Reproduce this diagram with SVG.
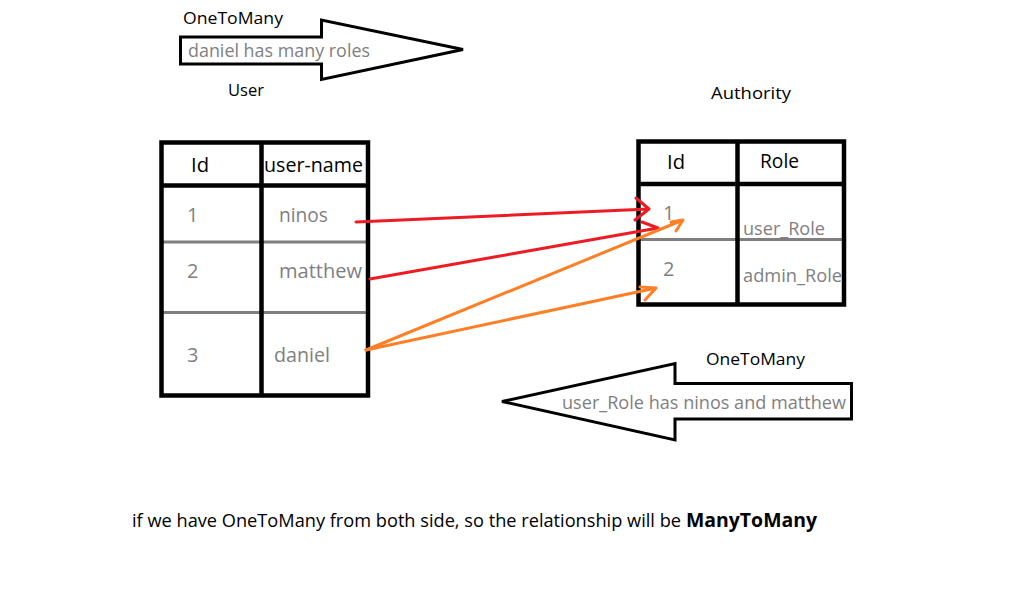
<svg xmlns="http://www.w3.org/2000/svg" width="1034" height="590" viewBox="0 0 1034 590">
<style>
.bk{fill:none;stroke:#000;stroke-width:4.5;stroke-linejoin:miter}
.gl{fill:none;stroke:#7f7f7f;stroke-width:3}
.ar{fill:#fff;stroke:#000;stroke-width:3;stroke-linejoin:miter}
.t{font-family:"Open Sans","Noto Sans","Liberation Sans",sans-serif}
.hd{font-size:20px;fill:#000}
.cl{font-size:20px;fill:#7f7f7f}
.lb{font-size:17px;fill:#000}
.gy{font-size:18px;fill:#7f7f7f}
.red{fill:none;stroke:#ed1c24;stroke-width:3;stroke-linecap:round;stroke-linejoin:round}
.org{fill:none;stroke:#ff7f27;stroke-width:3;stroke-linecap:round;stroke-linejoin:round}
</style>
<rect width="1034" height="590" fill="#fff"/>

<g id="arrow-top">
<polygon class="ar" points="180.5,37 321.5,37 321.5,20 463,49.5 321.5,79.5 321.5,64 180.5,64"/>
<text class="t lb" x="183" y="24" textLength="100" lengthAdjust="spacingAndGlyphs">OneToMany</text>
<text class="t gy" x="188" y="57" textLength="182" lengthAdjust="spacingAndGlyphs">daniel has many roles</text>
</g>

<g id="user-table">
<text class="t lb" x="228" y="96" textLength="36" lengthAdjust="spacingAndGlyphs">User</text>
<line class="gl" x1="160" y1="242" x2="369" y2="242"/>
<line class="gl" x1="160" y1="312.5" x2="369" y2="312.5"/>
<rect class="bk" x="161.5" y="142.5" width="206.5" height="253"/>
<line class="bk" x1="261.5" y1="142.5" x2="261.5" y2="395.5"/>
<line class="bk" x1="161.5" y1="185.5" x2="368" y2="185.5"/>
<text class="t hd" x="191" y="172" textLength="18" lengthAdjust="spacingAndGlyphs">Id</text>
<text class="t hd" x="264" y="172" textLength="99" lengthAdjust="spacingAndGlyphs">user-name</text>
<text class="t cl" x="187" y="222">1</text>
<text class="t cl" x="279" y="222" textLength="49" lengthAdjust="spacingAndGlyphs">ninos</text>
<text class="t cl" x="187" y="278">2</text>
<text class="t cl" x="279" y="278" textLength="83" lengthAdjust="spacingAndGlyphs">matthew</text>
<text class="t cl" x="187" y="362">3</text>
<text class="t cl" x="274" y="362" textLength="56" lengthAdjust="spacingAndGlyphs">daniel</text>
</g>

<g id="authority-table">
<text class="t lb" x="711" y="99" textLength="80" lengthAdjust="spacingAndGlyphs">Authority</text>
<line class="gl" x1="640" y1="239.5" x2="845" y2="239.5"/>
<rect class="bk" x="638.5" y="141.5" width="205.5" height="163"/>
<line class="bk" x1="737.5" y1="141.5" x2="737.5" y2="304.5"/>
<line class="bk" x1="638.5" y1="184" x2="844" y2="184"/>
<text class="t hd" x="667" y="169" textLength="18" lengthAdjust="spacingAndGlyphs">Id</text>
<text class="t hd" x="760" y="168" textLength="39" lengthAdjust="spacingAndGlyphs">Role</text>
<text class="t cl" x="663" y="220">1</text>
<text class="t gy" x="743" y="234.5" textLength="82" lengthAdjust="spacingAndGlyphs">user_Role</text>
<text class="t cl" x="663" y="276">2</text>
<text class="t gy" x="743" y="282" textLength="99" lengthAdjust="spacingAndGlyphs">admin_Role</text>
</g>

<g id="arrow-bottom">
<polygon class="ar" points="502,401.5 675,363.5 675,383.5 851.5,383.5 851.5,419 675,419 675,440"/>
<text class="t lb" x="706" y="365" textLength="99" lengthAdjust="spacingAndGlyphs">OneToMany</text>
<text class="t gy" x="562" y="409" textLength="284" lengthAdjust="spacingAndGlyphs">user_Role has ninos and matthew</text>
</g>

<g id="connectors">
<path class="red" d="M356,222 L649,209 M636,198 L649,209 L635,220"/>
<path class="red" d="M370,279 L658,228 M642,222 L658,228"/>
<path class="org" d="M366,350 L683,220 M671,222 L683,220 L676,231"/>
<path class="org" d="M366,350 L656,288 M640,287 L656,288 L645,300"/>
</g>

<g id="caption">
<text class="t" x="132" y="527" font-size="18" fill="#000" textLength="549" lengthAdjust="spacingAndGlyphs">if we have OneToMany from both side, so the relationship will be</text>
<text class="t" x="686" y="527" font-size="20" font-weight="bold" fill="#000" textLength="131" lengthAdjust="spacingAndGlyphs">ManyToMany</text>
</g>
</svg>
